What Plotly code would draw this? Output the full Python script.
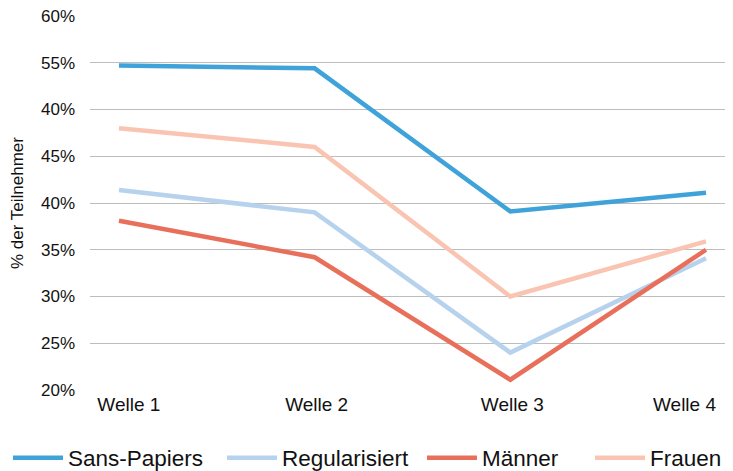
import plotly.graph_objects as go

waves = ["Welle 1", "Welle 2", "Welle 3", "Welle 4"]
sans_papiers = [54.7, 54.4, 39.1, 41.1]
regularisiert = [41.4, 39.0, 24.0, 34.1]
maenner = [38.1, 34.2, 21.1, 35.0]
frauen = [48.0, 46.0, 30.0, 35.9]

y_tickvals = [20, 25, 30, 35, 40, 45, 50, 55, 60]
y_ticktext = ["20%", "25%", "30%", "35%", "40%", "45%", "40%", "55%", "60%"]

series = [
    ("Sans-Papiers", sans_papiers, "#3FA3D9", "x"),
    ("Regularisiert", regularisiert, "#B7D2EC", "x"),
    ("Männer", maenner, "#E8705A", "x"),
    ("Frauen", frauen, "#F9C5B2", "x2"),
]
legend_ids = ["legend", "legend2", "legend3", "legend4"]
legend_x = [0.0, 0.2952, 0.5710, 0.8028]

xs = list(range(len(waves)))
fig = go.Figure()
for (name, vals, col, xa), lid in zip(series, legend_ids):
    fig.add_trace(go.Scatter(x=xs, y=vals, name=name, mode="lines", xaxis=xa,
                             line=dict(color=col, width=4.5), legend=lid))

legend_common = dict(orientation="h", xref="container", yref="container",
                     y=0.028, xanchor="left", yanchor="middle",
                     font=dict(size=22.5), itemwidth=50, bgcolor="rgba(0,0,0,0)")
layout_legends = {lid: dict(legend_common, x=lx) for lid, lx in zip(legend_ids, legend_x)}

x_range = [-0.148, 3.138]
x_common = dict(range=x_range, showgrid=False, zeroline=False, showline=False,
                automargin=False, tickfont=dict(size=19), ticks="",
                ticklabelstandoff=1, ticklabeloverflow="allow")

fig.update_layout(
    width=725, height=463,
    margin=dict(l=82, r=0, t=8, b=81, autoexpand=False),
    plot_bgcolor="white", paper_bgcolor="white",
    font=dict(family="Liberation Sans, Arial, sans-serif", color="#111111"),
    showlegend=True,
    xaxis=dict(x_common, tickvals=xs[:3],
               ticktext=["\u00a0\u00a0\u00a0" + waves[0], waves[1], waves[2]],
               ticklabelshift=2),
    xaxis2=dict(x_common, overlaying="x", matches="x", anchor="y", side="bottom",
                tickvals=xs[3:], ticktext=waves[3:],
                ticklabelposition="outside left", ticklabelshift=10),
    yaxis=dict(range=[20, 60], tickvals=y_tickvals, ticktext=y_ticktext,
               showgrid=True, gridcolor="#BDBDBD", gridwidth=1,
               zeroline=False, showline=False, ticks="", automargin=False,
               tickfont=dict(size=17), ticklabelstandoff=14,
               ticklabeloverflow="allow",
               title=dict(text="% der Teilnehmer", font=dict(size=17), standoff=18)),
    **layout_legends,
)

fig.write_html("out.html")
